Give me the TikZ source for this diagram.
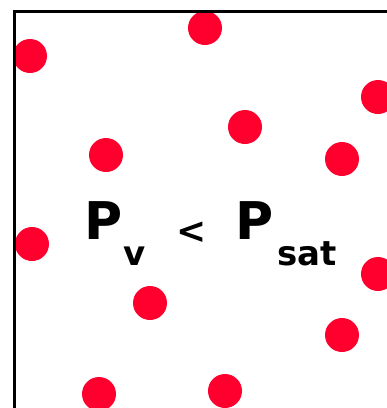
\documentclass[tikz,border=0pt]{standalone}
\usepackage{fontspec}
\setmainfont{DejaVu Sans}
\definecolor{dotred}{RGB}{255,0,46}

\begin{document}
\begin{tikzpicture}[x=1pt, y=-1pt,
  reddot/.style={fill=dotred},
  wall/.style={draw=black, line width=3pt},
  bigtxt/.style={font=\bfseries\fontsize{52}{52}\selectfont, inner sep=0pt, anchor=base west},
  subtxt/.style={font=\bfseries\fontsize{34}{34}\selectfont, inner sep=0pt, anchor=base west}
]
\useasboundingbox (0,0) rectangle (387,408);
\clip (0,0) rectangle (387,408);

% vapour molecules
\foreach \px/\py in {30/56, 205/28, 378/97, 245/127, 106/155, 342/159,
                     32/244, 378/274, 150/303, 342/335, 99/394, 225/391}
  \fill[reddot] (\px,\py) circle (17);

% container wall
\draw[wall] (14,420) -- (14,11) -- (400,11);

% pressure relation
\node[bigtxt] (pv) at (84,239) {P};
\node[subtxt] (vsub) at (123,265) {v};
\node[subtxt, font=\bfseries\fontsize{36}{36}\selectfont] (less) at (176,243) {<};
\node[bigtxt] (psat) at (235,239) {P};
\node[subtxt] (satsub) at (277,265) {sat};
\end{tikzpicture}
\end{document}
